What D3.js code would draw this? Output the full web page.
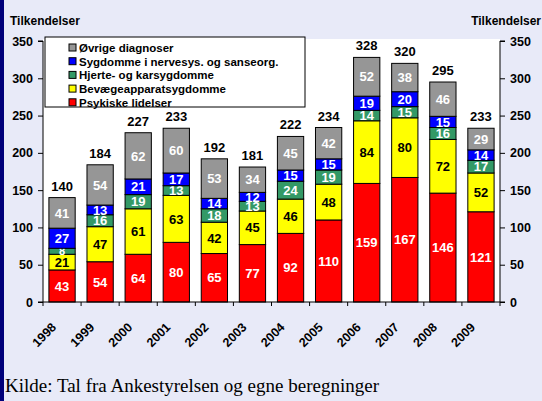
<!DOCTYPE html>
<html>
<head>
<meta charset="utf-8">
<script src="https://cdn.jsdelivr.net/npm/d3@7"></script>
<style>
  body { margin: 0; padding: 0; background: #e8eaf8; }
  svg { display: block; }
</style>
</head>
<body>
<div id="chart"></div>
<script>
// Chart data
var years = ['1998', '1999', '2000', '2001', '2002', '2003',
    '2004', '2005', '2006', '2007', '2008', '2009'];

var seriesNames = ['Psykiske lidelser', 'Bevægeapparatsygdomme',
    'Hjerte- og karsygdomme', 'Sygdomme i nervesys. og sanseorg.',
    'Øvrige diagnoser'];

var psykiske = [43, 54, 64, 80, 65, 77, 92, 110, 159, 167, 146, 121];
var bevaege = [21, 47, 61, 63, 42, 45, 46, 48, 84, 80, 72, 52];
var hjerte = [8, 16, 19, 13, 18, 13, 24, 19, 14, 15, 16, 17];
var nerve = [27, 13, 21, 17, 14, 12, 15, 15, 19, 20, 15, 14];
var oevrige = [41, 54, 62, 60, 53, 34, 45, 42, 52, 38, 46, 29];
var totals = [140, 184, 227, 233, 192, 181, 222, 234, 328, 320, 295, 233];

var yTicks = [0, 50, 100, 150, 200, 250, 300, 350];

var colors = ['#ff0000', '#ffff00', '#339966', '#0000ff', '#969696'];
var labelColors = ['#fff', '#000', '#fff', '#fff', '#fff'];

var FONT = "'Liberation Sans', Arial, sans-serif";

// build rows for d3.stack
var rows = years.map(function (y, i) {
    return {
        year: y,
        s0: psykiske[i], s1: bevaege[i], s2: hjerte[i], s3: nerve[i], s4: oevrige[i]
    };
});
var keys = ['s0', 's1', 's2', 's3', 's4'];
var stacked = d3.stack().keys(keys)(rows);

var width = 542, height = 401;
var margin = { top: 39, right: 42, bottom: 99, left: 43 };
var plotW = width - margin.left - margin.right;

var svg = d3.select("#chart").append("svg")
    .attr("width", width)
    .attr("height", height);

svg.append("rect")
    .attr("width", width).attr("height", height)
    .attr("fill", "#e8eaf8");

// left dark border
svg.append("rect")
    .attr("x", 0).attr("y", 0)
    .attr("width", 4).attr("height", height)
    .attr("fill", "#00007a");

var canvas = svg.append("g")
    .attr("transform", "translate(" + margin.left + "," + margin.top + ")");

var xScale = d3.scaleBand()
    .domain(years)
    .range([0, plotW])
    .paddingInner(0.31)
    .paddingOuter(0.155);

var yScale = d3.scaleLinear()
    .domain([0, 350])
    .range([263, 2]);

// plot background
canvas.append("rect")
    .attr("x", 0).attr("y", 0)
    .attr("width", plotW).attr("height", yScale(0))
    .attr("fill", "#fff");

// bars
var layers = canvas.selectAll(".layer")
    .data(stacked)
    .enter().append("g")
    .attr("class", "layer")
    .attr("fill", function (d, i) { return colors[i]; });

layers.selectAll("rect")
    .data(function (d) { return d; })
    .enter().append("rect")
    .attr("x", function (d) { return xScale(d.data.year); })
    .attr("width", xScale.bandwidth())
    .attr("y", function (d) { return yScale(d[1]); })
    .attr("height", function (d) { return yScale(d[0]) - yScale(d[1]); })
    .attr("stroke", "#000")
    .attr("stroke-width", 1);

// segment labels (small segments get a smaller font, as in the original)
layers.each(function (layer, li) {
    d3.select(this).selectAll("text")
        .data(layer)
        .enter().append("text")
        .attr("x", function (d) { return xScale(d.data.year) + xScale.bandwidth() / 2; })
        .attr("y", function (d) { return (yScale(d[0]) + yScale(d[1])) / 2; })
        .attr("dy", "0.36em")
        .attr("text-anchor", "middle")
        .attr("fill", labelColors[li])
        .style("font-weight", "bold")
        .style("font-family", FONT)
        .style("font-size", function (d) { return (d[1] - d[0]) < 10 ? "11px" : "13px"; })
        .text(function (d) { return d[1] - d[0]; });
});

// totals
canvas.selectAll(".total")
    .data(years)
    .enter().append("text")
    .attr("class", "total")
    .attr("x", function (d) { return xScale(d) + xScale.bandwidth() / 2; })
    .attr("y", function (d, i) { return yScale(totals[i]) - 7; })
    .attr("text-anchor", "middle")
    .attr("fill", "#000")
    .style("font", "bold 13px " + FONT)
    .text(function (d, i) { return totals[i]; });

// axes
var leftAxis = d3.axisLeft(yScale).tickValues(yTicks).tickSize(5).tickPadding(5);
var rightAxis = d3.axisRight(yScale).tickValues(yTicks).tickSize(5).tickPadding(5);

var gl = canvas.append("g").call(leftAxis);
var gr = canvas.append("g").attr("transform", "translate(" + plotW + ",0)").call(rightAxis);

[gl, gr].forEach(function (g) {
    g.select(".domain").attr("stroke", "#000").attr("d",
        g === gl ? "M-5," + yScale(350) + "H0V" + yScale(0) + "H-5"
                 : "M5," + yScale(350) + "H0V" + yScale(0) + "H5");
    g.selectAll("text")
        .style("font", "bold 12.5px " + FONT)
        .attr("fill", "#000");
});

// x axis with ticks between categories
var xAxisG = canvas.append("g")
    .attr("transform", "translate(0," + yScale(0) + ")");

xAxisG.append("line")
    .attr("x1", 0).attr("x2", plotW)
    .attr("stroke", "#000");

var step = xScale.step();
xAxisG.selectAll(".xtick")
    .data(d3.range(years.length + 1))
    .enter().append("line")
    .attr("x1", function (i) { return xScale(years[0]) - xScale.paddingInner() * step / 2 + i * step; })
    .attr("x2", function (i) { return xScale(years[0]) - xScale.paddingInner() * step / 2 + i * step; })
    .attr("y1", 0).attr("y2", 4)
    .attr("stroke", "#000");

xAxisG.selectAll(".xlabel")
    .data(years)
    .enter().append("text")
    .attr("transform", function (d) {
        return "translate(" + (xScale(d) + xScale.bandwidth() / 2 - 5) + ",26) rotate(-45)";
    })
    .attr("text-anchor", "end")
    .style("font", "bold 12.5px " + FONT)
    .text(function (d) { return d; });

// axis titles
svg.append("text")
    .attr("x", 10).attr("y", 25)
    .style("font", "bold 12px " + FONT)
    .text("Tilkendelser");

svg.append("text")
    .attr("x", 541).attr("y", 25)
    .attr("text-anchor", "end")
    .style("font", "bold 12px " + FONT)
    .text("Tilkendelser");

// legend
var legend = canvas.append("g").attr("transform", "translate(2,-2)");
legend.append("rect")
    .attr("width", 260).attr("height", 70)
    .attr("fill", "#fff").attr("stroke", "#000");

var legendOrder = [4, 3, 2, 1, 0];
var items = legend.selectAll(".item")
    .data(legendOrder)
    .enter().append("g")
    .attr("transform", function (d, i) { return "translate(24," + (7 + i * 13.7) + ")"; });

items.append("rect")
    .attr("width", 7).attr("height", 7)
    .attr("fill", function (d) { return colors[d]; })
    .attr("stroke", "#000");

items.append("text")
    .attr("x", 10).attr("y", 4).attr("dy", "0.35em")
    .style("font", "bold 11.5px " + FONT)
    .text(function (d) { return seriesNames[d]; });

// source
svg.append("text")
    .attr("x", 5).attr("y", 392)
    .style("font", "19px 'Liberation Serif', 'Times New Roman', serif")
    .attr("fill", "#000")
    .text("Kilde: Tal fra Ankestyrelsen og egne beregninger");
</script>
</body>
</html>
